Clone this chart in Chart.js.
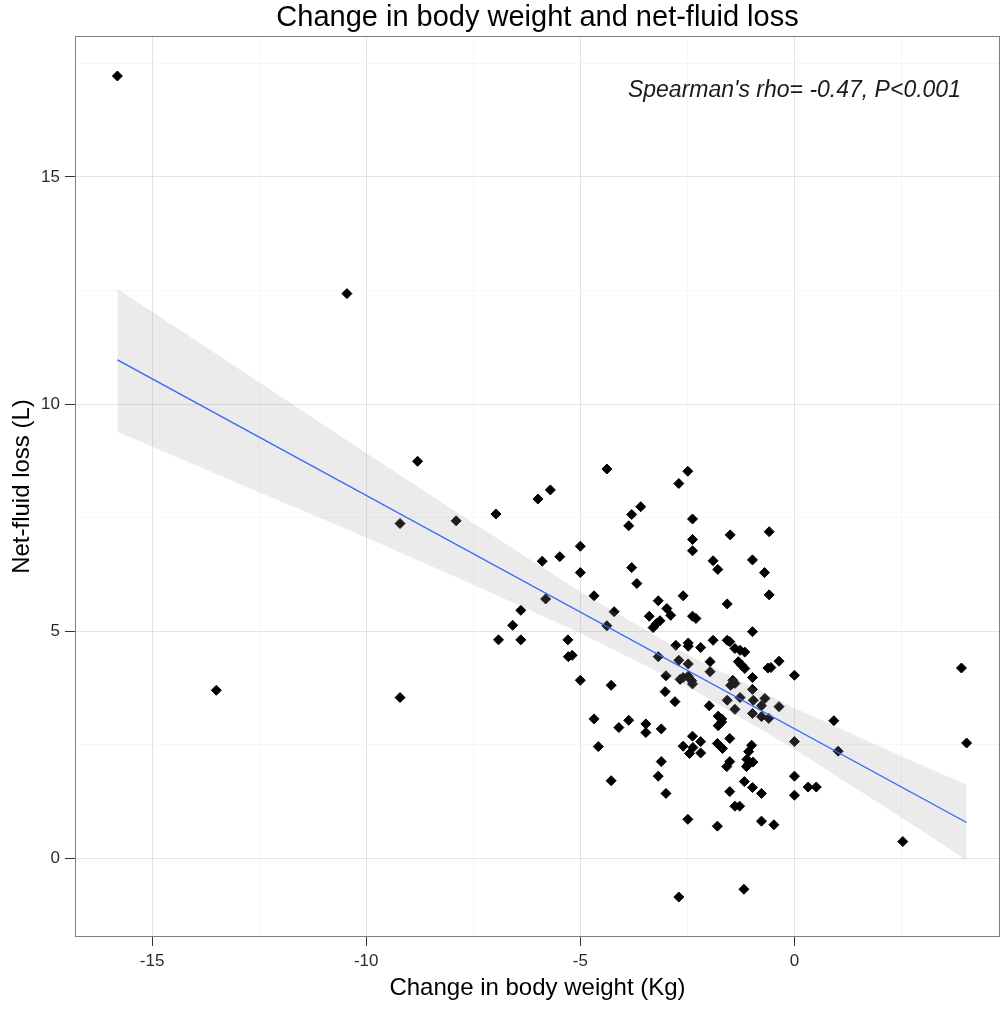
<!DOCTYPE html>
<html>
<head>
<meta charset="utf-8">
<script src="https://cdn.jsdelivr.net/npm/chart.js@4/dist/chart.umd.min.js"></script>
<style>
  body { margin: 0; background: #fff; }
  canvas { display: block; }
</style>
</head>
<body>
<canvas id="chart" width="1001" height="1009"></canvas>
<script>
const FONT = '"Liberation Sans", Arial, sans-serif';

const chartTitle = "Change in body weight and net-fluid loss";
const xTitle = "Change in body weight (Kg)";
const yTitle = "Net-fluid loss (L)";
const statText = "Spearman's rho= -0.47, P<0.001";
const statAt = { x: 0, y: 16.9 };

// change in body weight (Kg)
const weightChange = [
  -15.81, -10.45, -13.5, -9.21, -9.21, -8.8, -7.9, -6.97, -6.91, -6.58,
  -6.39, -6.39, -5.99, -5.7, -5.89, -5.81, -5.48, -5, -5, -4.68,
  -5.29, -5.28, -5.19, -5, -4.68, -4.58, -4.28, -4.38, -2.49, -2.7,
  -3.59, -3.8, -3.87, -2.38, -2.38, -2.38, -1.5, -0.59, -3.8, -3.68,
  -1.9, -1.79, -0.98, -0.7, -0.59, -4.21, -4.38, -3.18, -2.98, -2.89,
  -3.39, -3.14, -3.22, -3.3, -2.6, -1.57, -2.38, -2.3, -0.98, -1.9,
  -1.57, -1.51, -2.77, -2.48, -2.48, -2.19, -1.39, -1.27, -1.16, -3.18,
  -2.7, -2.48, -1.97, -1.97, -1.31, -1.23, -1.16, -0.62, -0.55, -0.36,
  0, -4.28, -3, -2.67, -2.6, -2.48, -2.4, -2.38, -0.98, -1.44,
  -1.39, -1.49, -0.98, -0.96, -0.69, -3.02, -2.79, -1.99, -1.57, -1.39,
  -1.27, -0.77, -0.36, -1.78, -1.7, -1.7, -1.78, -0.98, -0.77, -0.6,
  0, -4.1, -3.87, -3.47, -3.47, -3.11, -3.11, -3.18, -3, -2.6,
  -2.38, -2.19, -2.37, -2.45, -2.19, -1.51, -1.8, -1.68, -1, -1.07,
  -1.11, -1.07, -0.97, -1.12, -1.51, -1.58, -1.17, -0.98, -0.77, -1.51,
  -1.39, -1.28, 0, 0, 0.32, 0.51, -2.49, -1.8, -0.77, -0.48,
  -2.7, -1.18, 0.92, 1.02, 2.53, 3.9, 4.02
];

// net-fluid loss (L)
const fluidLoss = [
  17.22, 12.43, 3.7, 3.54, 7.37, 8.74, 7.43, 7.58, 4.81, 5.13,
  5.46, 4.81, 7.91, 8.11, 6.54, 5.71, 6.64, 6.87, 6.29, 5.78,
  4.81, 4.44, 4.47, 3.92, 3.07, 2.46, 1.71, 8.57, 8.52, 8.25,
  7.74, 7.57, 7.32, 7.47, 7.02, 6.77, 7.12, 7.19, 6.4, 6.05,
  6.55, 6.36, 6.57, 6.29, 5.8, 5.43, 5.12, 5.67, 5.5, 5.35,
  5.33, 5.23, 5.17, 5.08, 5.78, 5.6, 5.33, 5.28, 4.99, 4.8,
  4.8, 4.77, 4.69, 4.74, 4.67, 4.64, 4.62, 4.58, 4.54, 4.44,
  4.36, 4.28, 4.33, 4.11, 4.33, 4.25, 4.18, 4.19, 4.2, 4.34,
  4.03, 3.81, 4.02, 3.94, 3.98, 4.01, 3.91, 3.84, 3.98, 3.92,
  3.85, 3.81, 3.72, 3.48, 3.52, 3.67, 3.45, 3.36, 3.48, 3.28,
  3.54, 3.36, 3.34, 3.13, 3.07, 3, 2.92, 3.19, 3.12, 3.08,
  2.57, 2.88, 3.04, 2.96, 2.77, 2.85, 2.13, 1.81, 1.43, 2.47,
  2.69, 2.57, 2.44, 2.31, 2.32, 2.64, 2.53, 2.42, 2.49, 2.35,
  2.18, 2.08, 2.12, 2.02, 2.13, 2.02, 1.69, 1.56, 1.43, 1.47,
  1.15, 1.15, 1.81, 1.39, 1.57, 1.57, 0.86, 0.71, 0.82, 0.74,
  -0.85, -0.68, 3.03, 2.36, 0.37, 4.19, 2.54
];

// linear fit and its confidence band
const fitX = [-15.81, 4.02];
const fitY = [10.97, 0.79];
const bandX = [-15.81, -12.5, -10, -7.5, -5, -2.5, 0, 2.5, 4.02];
const bandUpper = [12.54, 10.48, 8.92, 7.38, 5.87, 4.49, 3.31, 2.25, 1.62];
const bandLower = [9.39, 8.06, 7.06, 6.02, 4.96, 3.79, 2.4, 0.9, -0.04];

const zip = (xs, ys) => xs.map((x, i) => ({ x: x, y: ys[i] }));
const isMajor = (v) => Math.abs(v % 5) < 1e-9;

const decorPlugin = {
  id: "decor",
  afterDatasetsDraw(chart) {
    const { ctx, chartArea: a } = chart;
    ctx.save();
    ctx.strokeStyle = "#7f7f7f";
    ctx.lineWidth = 1;
    ctx.strokeRect(a.left + 0.5, a.top + 0.5, a.right - a.left - 1, a.bottom - a.top - 1);
    ctx.restore();
  },
  afterDraw(chart) {
    const { ctx, chartArea: a, scales } = chart;
    ctx.save();
    ctx.fillStyle = "#000";
    ctx.textAlign = "center";
    ctx.textBaseline = "middle";
    ctx.font = "29px " + FONT;
    ctx.fillText(chartTitle, (a.left + a.right) / 2, 18);

    ctx.fillStyle = "#1a1a1a";
    ctx.font = "italic 23px " + FONT;
    ctx.fillText(statText, scales.x.getPixelForValue(statAt.x), scales.y.getPixelForValue(statAt.y));
    ctx.restore();
  },
};

const gridOpts = (tickLen) => ({
  color: (c) => (isMajor(c.tick.value) ? "#e3e3e3" : "#f6f6f6"),
  tickColor: (c) => (isMajor(c.tick.value) ? "#333" : "rgba(0,0,0,0)"),
  tickLength: tickLen,
  lineWidth: 1,
});

new Chart(document.getElementById("chart"), {
  type: "scatter",
  data: {
    datasets: [
      {
        type: "line",
        data: zip(fitX, fitY),
        borderColor: "#3366FF",
        borderWidth: 1.4,
        pointRadius: 0,
        fill: false,
        order: 1,
      },
      {
        type: "line",
        data: zip(bandX, bandUpper),
        borderWidth: 0,
        borderColor: "rgba(0,0,0,0)",
        backgroundColor: "rgba(153,153,153,0.2)",
        pointRadius: 0,
        fill: "+1",
        order: 2,
      },
      {
        type: "line",
        data: zip(bandX, bandLower),
        borderWidth: 0,
        borderColor: "rgba(0,0,0,0)",
        pointRadius: 0,
        fill: false,
        order: 3,
      },
      {
        data: zip(weightChange, fluidLoss),
        pointStyle: "rectRot",
        pointRadius: 5,
        borderWidth: 1,
        backgroundColor: "#000",
        borderColor: "#000",
        order: 4,
      },
    ],
  },
  options: {
    responsive: false,
    animation: false,
    layout: { autoPadding: false, padding: { top: 36, right: 1, left: 0, bottom: 0 } },
    plugins: {
      legend: { display: false },
      tooltip: { enabled: false },
    },
    scales: {
      x: {
        type: "linear",
        min: -16.8,
        max: 4.8,
        afterFit: (s) => { s.height = 72; },
        border: { display: false },
        grid: gridOpts(9),
        ticks: {
          stepSize: 2.5,
          includeBounds: false,
          autoSkip: false,
          maxRotation: 0,
          padding: 5,
          color: "#2b2b2b",
          font: { family: FONT, size: 17 },
          callback: (v) => (isMajor(v) ? String(v) : ""),
        },
        title: {
          display: true,
          text: xTitle,
          color: "#000",
          font: { family: FONT, size: 24 },
          padding: { top: 0, bottom: 6 },
        },
      },
      y: {
        type: "linear",
        min: -1.73,
        max: 18.1,
        afterFit: (s) => { s.width = 75; },
        border: { display: false },
        grid: gridOpts(10),
        ticks: {
          stepSize: 2.5,
          includeBounds: false,
          autoSkip: false,
          padding: 5,
          color: "#2b2b2b",
          font: { family: FONT, size: 17 },
          callback: (v) => (isMajor(v) ? String(v) : ""),
        },
        title: {
          display: true,
          text: yTitle,
          color: "#000",
          font: { family: FONT, size: 24 },
          padding: { top: 8, bottom: 0 },
        },
      },
    },
  },
  plugins: [decorPlugin],
});
</script>
</body>
</html>
